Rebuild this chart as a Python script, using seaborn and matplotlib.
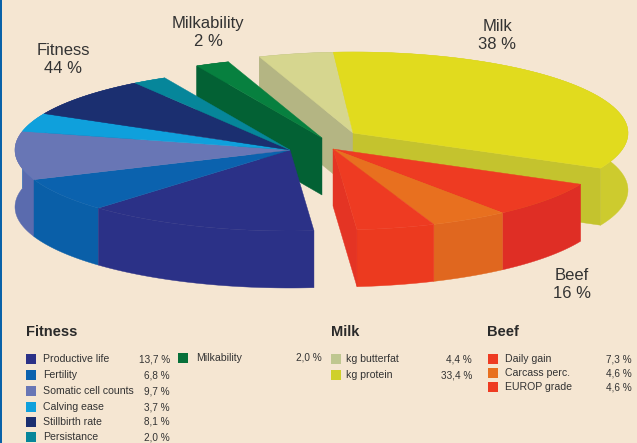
import numpy as np
import pandas as pd
import matplotlib
matplotlib.use("Agg")
import matplotlib.pyplot as plt
from matplotlib.patches import Rectangle
import seaborn as sns

sns.set_theme(style="white")
plt.rcParams["font.family"] = ["Liberation Sans", "DejaVu Sans"]

# data, clockwise round the pie
TRAITS = ["Productive life", "Fertility", "Somatic cell counts", "Calving ease",
          "Stillbirth rate", "Persistance", "Milkability", "kg butterfat",
          "kg protein", "Daily gain", "Carcass perc.", "EUROP grade"]
SHARES = [13.7, 6.8, 9.7, 3.7, 8.1, 2.0, 2.0, 4.4, 33.4, 7.3, 4.6, 4.6]
GROUPS = ["Fitness"] * 6 + ["Milkability"] + ["Milk"] * 2 + ["Beef"] * 3
HEADERS = ["Fitness", "Milk", "Beef"]
SUM_LABELS = ["Fitness", "Milkability", "Milk", "Beef"]
SUM_VALUES = [44, 2, 38, 16]

# styles
BG = "#F5E6D2"
TOP = ["#2B3187", "#0B62AE", "#6876B5", "#0FA0DC", "#1B2F70", "#06869A",
       "#07803F", "#D6D68F", "#E1DB1E", "#EE3B22", "#E8701F", "#EE3B22"]
SIDE = ["#2B3187", "#0A5FA8", "#5A6BAE", "#0FA0DC", "#1B2F70", "#06869A",
        "#036134", "#B4B583", "#CDCB2E", "#DF2E25", "#E0671F", "#EC3A1F"]
WALL = {"Fitness": "#2B3187", "Milkability": "#036134", "Milk": ("#B4B583", "#C4C32E"),
        "Beef": ("#E43424", "#E43424")}
SWATCH = ["#2B3187", "#0B62AE", "#6876B5", "#0FA0DC", "#1B2F70", "#06869A",
          "#07703A", "#BFC790", "#CFD02A", "#EE3B22", "#E8701F", "#EE3B22"]

# layout, in pixels
CENTRES = {"Fitness": (290, 150), "Milkability": (322, 138), "Milk": (353, 133), "Beef": (333, 149)}
A, B, DEPTH = 275, 81, 57
START = 85.0
SUM_POS = [(63, 59), (208, 32), (497, 35), (572, 284)]
HEADER_X = [26, 331, 487]
SWATCH_X = [31] * 6 + [183] + [336] * 2 + [493] * 3
TEXT_X = [43] * 6 + [196] + [346] * 2 + [505] * 3
VALUE_X = [170] * 6 + [322] + [472] * 2 + [632] * 3
ROW_Y = [359, 375, 391, 407, 422, 437, 358, 359, 375, 359, 373, 387]


def arc(centre, t0, t1, drop=0):
    t = np.radians(np.linspace(t0, t1, 60))
    return np.column_stack([centre[0] + A * np.cos(t), centre[1] + drop + B * np.sin(t)])


def main():
    df = pd.DataFrame({"trait": TRAITS, "share": SHARES, "group": GROUPS})
    df["sweep"] = df["share"] / df["share"].sum() * 360
    df["t0"] = START + df["sweep"].cumsum().shift(fill_value=0)
    df["t1"] = df["t0"] + df["sweep"]
    df["depth_order"] = np.sin(np.radians((df["t0"] + df["t1"]) / 2))
    df["x"], df["y"] = SWATCH_X, ROW_Y

    fig = plt.figure(figsize=(6.37, 4.43), dpi=100, facecolor=BG)
    ax = fig.add_axes([0, 0, 1, 1])
    ax.set_xlim(0, 637)
    ax.set_ylim(443, 0)
    ax.set_facecolor(BG)
    ax.axis("off")
    ax.add_patch(Rectangle((0, 0), 1.5, 443, color="#0A62A8", lw=0))

    for group in ["Milk", "Milkability", "Fitness", "Beef"]:
        part = df[df["group"] == group]
        c = CENTRES[group]
        # back rims first so the front ones stay on top
        for i, row in part.sort_values("depth_order").iterrows():
            top, low = arc(c, row.t0, row.t1), arc(c, row.t0, row.t1, DEPTH)
            ax.fill(*np.vstack([top, low[::-1]]).T, color=SIDE[i], lw=0.3)
        walls = WALL[group] if isinstance(WALL[group], tuple) else (WALL[group], WALL[group])
        t_in, t_out = part["t0"].iloc[0], part["t1"].iloc[-1]
        for t, face, show in [(t_in, walls[0], np.cos(np.radians(t_in)) < 0),
                              (t_out, walls[1], np.cos(np.radians(t_out)) > 0)]:
            if show:
                edge = arc(c, t, t)[0]
                pts = [c, edge, (edge[0], edge[1] + DEPTH), (c[0], c[1] + DEPTH)]
                ax.fill(*np.array(pts).T, color=face, lw=0.3)
        for i, row in part.iterrows():
            ax.fill(*np.vstack([[c], arc(c, row.t0, row.t1)]).T, color=TOP[i], lw=0.3)

    for name, value, (x, y) in zip(SUM_LABELS, SUM_VALUES, SUM_POS):
        ax.text(x, y, f"{name}\n{value} %", ha="center", va="center", fontsize=12,
                color="#333333", linespacing=1.25)

    for name, x in zip(HEADERS, HEADER_X):
        ax.text(x, 332, name, ha="left", va="center", fontsize=10.5, fontweight="bold", color="#2A2A2A")

    sns.scatterplot(data=df, x="x", y="y", hue="trait", palette=SWATCH, marker="s", s=55,
                    linewidth=0, legend=False, ax=ax)
    ax.set_xlim(0, 637)
    ax.set_ylim(443, 0)

    for i, row in df.iterrows():
        ax.text(TEXT_X[i], row.y, row.trait, ha="left", va="center", fontsize=7.6, color="#333333")
        ax.text(VALUE_X[i], row.y, f"{row.share:.1f}".replace(".", ",") + " %", ha="right",
                va="center", fontsize=7.2, color="#333333")

    fig.savefig("out.png", dpi=100, facecolor=BG)


if __name__ == "__main__":
    main()
